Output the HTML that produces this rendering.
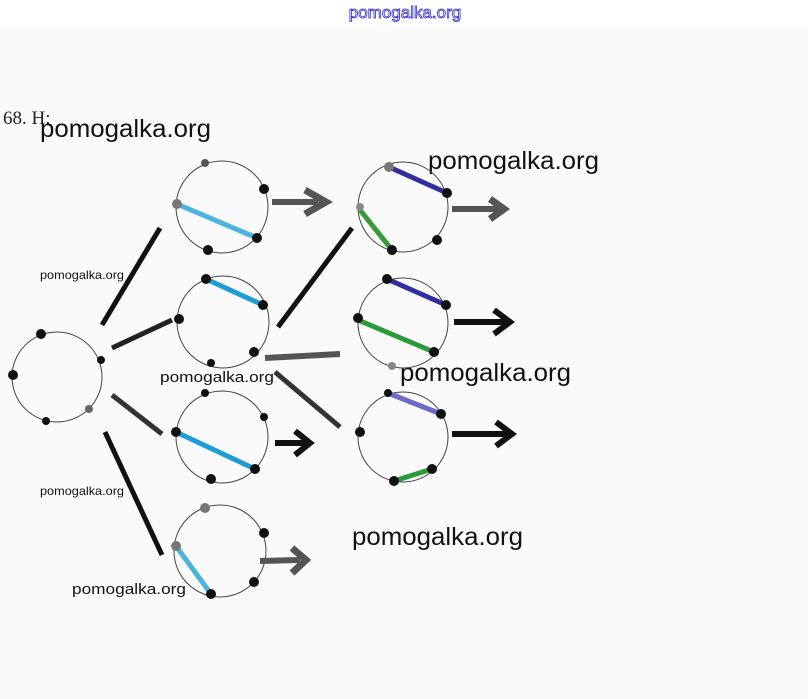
<!DOCTYPE html>
<html><head><meta charset="utf-8"><style>
html,body{margin:0;padding:0;width:808px;height:699px;overflow:hidden;background:#fafafa}
svg{display:block}
</style></head><body>
<svg width="808" height="699" viewBox="0 0 808 699" xmlns="http://www.w3.org/2000/svg">
<rect x="0" y="0" width="808" height="26" fill="#fff"/>
<text x="405" y="18" text-anchor="middle" font-family="Liberation Sans, sans-serif" font-size="17" fill="#fff" stroke="#2a2ad0" stroke-width="0.8">pomogalka.org</text>
<text x="3" y="124" font-family="Liberation Serif, serif" font-size="19" fill="#222">68. H:</text>
<g font-family="Liberation Sans, sans-serif" fill="#111">
<text x="40" y="137" font-size="25" font-weight="500" textLength="171" lengthAdjust="spacingAndGlyphs">pomogalka.org</text>
<text x="428" y="169" font-size="25" font-weight="500" textLength="171" lengthAdjust="spacingAndGlyphs">pomogalka.org</text>
<text x="40" y="279" font-size="12" textLength="84" lengthAdjust="spacingAndGlyphs">pomogalka.org</text>
<text x="160" y="382" font-size="15" textLength="114" lengthAdjust="spacingAndGlyphs">pomogalka.org</text>
<text x="400" y="381" font-size="25" font-weight="500" textLength="171" lengthAdjust="spacingAndGlyphs">pomogalka.org</text>
<text x="40" y="495" font-size="12" textLength="84" lengthAdjust="spacingAndGlyphs">pomogalka.org</text>
<text x="352" y="545" font-size="25" font-weight="500" textLength="171" lengthAdjust="spacingAndGlyphs">pomogalka.org</text>
<text x="72" y="594" font-size="15" textLength="114" lengthAdjust="spacingAndGlyphs">pomogalka.org</text>
</g>
<g fill="none" stroke="#444" stroke-width="1">
<circle cx="57" cy="377" r="45"/>
<circle cx="222" cy="207" r="46"/>
<circle cx="223" cy="322" r="46"/>
<circle cx="222" cy="437" r="46"/>
<circle cx="220" cy="551" r="46"/>
<circle cx="403" cy="207" r="45"/>
<circle cx="403" cy="323" r="45"/>
<circle cx="403" cy="437" r="45"/>
</g>
<g stroke-linecap="butt">
<line x1="102" y1="325" x2="160" y2="228" stroke="#111" stroke-width="5"/>
<line x1="112" y1="348" x2="172" y2="320" stroke="#222" stroke-width="5"/>
<line x1="112" y1="395" x2="162" y2="434" stroke="#333" stroke-width="5"/>
<line x1="105" y1="432" x2="162" y2="555" stroke="#111" stroke-width="5"/>
<line x1="272" y1="202" x2="318" y2="202" stroke="#555" stroke-width="6"/>
<polyline points="305,190 326,202 305,214" fill="none" stroke="#555" stroke-width="7"/>
<line x1="278" y1="327" x2="352" y2="228" stroke="#111" stroke-width="5"/>
<line x1="265" y1="358" x2="340" y2="354" stroke="#555" stroke-width="6"/>
<line x1="275" y1="372" x2="340" y2="427" stroke="#333" stroke-width="5"/>
<line x1="275" y1="443" x2="305" y2="443" stroke="#111" stroke-width="6"/>
<polyline points="295,431 310,443 295,455" fill="none" stroke="#111" stroke-width="6"/>
<line x1="260" y1="561" x2="300" y2="560" stroke="#555" stroke-width="6"/>
<polyline points="292,548 306,560 292,573" fill="none" stroke="#555" stroke-width="7"/>
<line x1="452" y1="209" x2="500" y2="209" stroke="#555" stroke-width="6"/>
<polyline points="490,199 504,209 490,219" fill="none" stroke="#555" stroke-width="7"/>
<line x1="454" y1="322" x2="506" y2="322" stroke="#111" stroke-width="6"/>
<polyline points="494,310 510,322 494,334" fill="none" stroke="#111" stroke-width="6"/>
<line x1="452" y1="434" x2="508" y2="434" stroke="#111" stroke-width="6"/>
<polyline points="496,422 512,434 496,446" fill="none" stroke="#111" stroke-width="6"/>
</g>
<g stroke-width="5">
<line x1="177" y1="204" x2="257" y2="238" stroke="#4ab4dc"/>
<line x1="206" y1="279" x2="263" y2="305" stroke="#1d9cd6"/>
<line x1="176" y1="432" x2="255" y2="469" stroke="#1d9cd6"/>
<line x1="176" y1="546" x2="211" y2="594" stroke="#4ab4dc"/>
<line x1="389" y1="167" x2="447" y2="193" stroke="#2e2e9e"/>
<line x1="360" y1="210" x2="392" y2="250" stroke="#3a9a3a"/>
<line x1="387" y1="279" x2="446" y2="305" stroke="#2e2e9e"/>
<line x1="358" y1="320" x2="434" y2="352" stroke="#2a9a3a"/>
<line x1="388" y1="393" x2="441" y2="414" stroke="#6a6ac8"/>
<line x1="394" y1="481" x2="432" y2="469" stroke="#2a9a3a"/>
</g>
<g fill="#111">
<circle cx="41" cy="334" r="5"/><circle cx="13" cy="375" r="5"/><circle cx="101" cy="360" r="4"/><circle cx="46" cy="421" r="4"/><circle cx="89" cy="409" r="4" fill="#666"/>
<circle cx="205" cy="163" r="4" fill="#555"/><circle cx="264" cy="189" r="5"/><circle cx="177" cy="204" r="5" fill="#777"/><circle cx="257" cy="238" r="5"/><circle cx="208" cy="250" r="5"/>
<circle cx="206" cy="279" r="5"/><circle cx="263" cy="305" r="5"/><circle cx="179" cy="319" r="5"/><circle cx="254" cy="352" r="5"/><circle cx="211" cy="363" r="4"/>
<circle cx="205" cy="393" r="4"/><circle cx="264" cy="417" r="4"/><circle cx="176" cy="432" r="5"/><circle cx="255" cy="469" r="5"/><circle cx="211" cy="479" r="5"/>
<circle cx="205" cy="508" r="5" fill="#777"/><circle cx="264" cy="533" r="5"/><circle cx="176" cy="546" r="5" fill="#777"/><circle cx="254" cy="582" r="5"/><circle cx="211" cy="594" r="5"/>
<circle cx="389" cy="167" r="5" fill="#777"/><circle cx="447" cy="193" r="5"/><circle cx="360" cy="207" r="4" fill="#888"/><circle cx="392" cy="250" r="5"/><circle cx="437" cy="240" r="5"/>
<circle cx="387" cy="279" r="5"/><circle cx="446" cy="305" r="5"/><circle cx="358" cy="318" r="5"/><circle cx="434" cy="352" r="5"/><circle cx="392" cy="366" r="4" fill="#888"/>
<circle cx="388" cy="393" r="4"/><circle cx="441" cy="414" r="5"/><circle cx="360" cy="432" r="5"/><circle cx="432" cy="469" r="5"/><circle cx="394" cy="481" r="5"/>
</g>
</svg>
</body></html>
